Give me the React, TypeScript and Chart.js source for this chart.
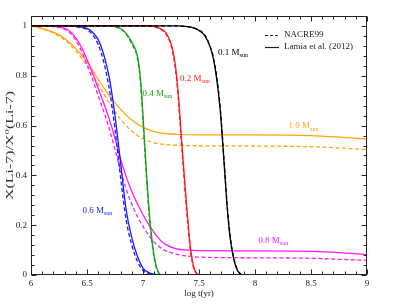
import React, { useEffect, useRef } from "react";
import { Chart, registerables } from "chart.js";
Chart.register(...registerables);

// ---- axes ----
const xMin = 6;
const xMax = 9;
const yMin = 0;
const yMax = 1.04;
const xTickValues = [6, 6.5, 7, 7.5, 8, 8.5, 9];
const xTickLabels = ["6", "6.5", "7", "7.5", "8", "8.5", "9"];
const yTickValues = [0, 0.2, 0.4, 0.6, 0.8, 1];
const yTickLabels = ["0", "0.2", "0.4", "0.6", "0.8", "1"];
const xMinorStep = 0.1;
const yMinorStep = 0.04;
const xTitle = "log t(yr)";
const yTitleA = "X(Li-7)/X";
const yTitleSup = "0";
const yTitleB = "(Li-7)";

// ---- legend ----
const legendLabels = ["NACRE99", "Lamia et al. (2012)"];

// ---- 0.1 Msun ----
const m01X = [6, 7.3, 7.4, 7.45, 7.5, 7.55, 7.6, 7.63, 7.66, 7.69, 7.71, 7.73, 7.75, 7.77, 7.79, 7.81, 7.83, 7.85, 7.87, 7.9, 9];
const m01Lamia = [1, 1, 0.997, 0.992, 0.982, 0.962, 0.915, 0.865, 0.78, 0.66, 0.54, 0.41, 0.28, 0.18, 0.112, 0.065, 0.033, 0.013, 0.004, 0, 0];
const m01Nacre = [1, 1, 0.997, 0.992, 0.983, 0.964, 0.918, 0.87, 0.79, 0.67, 0.55, 0.42, 0.29, 0.19, 0.118, 0.07, 0.036, 0.015, 0.005, 0, 0];

// ---- 0.2 Msun ----
const m02X = [6, 7.0, 7.1, 7.15, 7.2, 7.25, 7.28, 7.3, 7.32, 7.34, 7.36, 7.38, 7.4, 7.42, 7.44, 7.46, 7.48, 7.5, 9];
const m02Lamia = [1, 1, 0.998, 0.99, 0.975, 0.93, 0.87, 0.8, 0.7, 0.57, 0.45, 0.33, 0.225, 0.125, 0.06, 0.022, 0.007, 0, 0];
const m02Nacre = [1, 1, 0.997, 0.988, 0.97, 0.922, 0.858, 0.785, 0.68, 0.55, 0.43, 0.31, 0.205, 0.11, 0.05, 0.018, 0.005, 0, 0];

// ---- 0.4 Msun ----
const m04X = [6, 6.7, 6.75, 6.8, 6.85, 6.9, 6.95, 6.975, 7.0, 7.02, 7.04, 7.06, 7.08, 7.1, 7.12, 7.14, 7.16, 9];
const m04Lamia = [1, 1, 0.998, 0.99, 0.97, 0.935, 0.88, 0.8, 0.64, 0.49, 0.35, 0.23, 0.14, 0.075, 0.032, 0.01, 0, 0];
const m04Nacre = [1, 1, 0.997, 0.988, 0.966, 0.928, 0.87, 0.785, 0.62, 0.47, 0.33, 0.215, 0.13, 0.068, 0.028, 0.008, 0, 0];

// ---- 0.6 Msun ----
const m06X = [6, 6.3, 6.4, 6.5, 6.55, 6.6, 6.65, 6.7, 6.75, 6.8, 6.85, 6.9, 6.95, 7.0, 7.05, 7.1, 7.15, 9];
const m06Lamia = [1, 1, 0.998, 0.99, 0.975, 0.945, 0.885, 0.79, 0.64, 0.45, 0.26, 0.15, 0.075, 0.028, 0.01, 0.003, 0, 0];
const m06Nacre = [1, 1, 0.997, 0.985, 0.965, 0.925, 0.855, 0.745, 0.585, 0.39, 0.22, 0.12, 0.055, 0.018, 0.006, 0.001, 0, 0];

// ---- 0.8 Msun ----
const m08X = [6, 6.2, 6.3, 6.35, 6.4, 6.45, 6.5, 6.55, 6.6, 6.65, 6.7, 6.75, 6.8, 6.85, 6.9, 6.95, 7.0, 7.05, 7.1, 7.15, 7.2, 7.3, 7.4, 7.5, 8.0, 8.5, 8.75, 9];
const m08Lamia = [1, 0.998, 0.99, 0.978, 0.952, 0.915, 0.865, 0.81, 0.75, 0.69, 0.625, 0.55, 0.465, 0.395, 0.335, 0.285, 0.242, 0.203, 0.17, 0.142, 0.123, 0.105, 0.1, 0.098, 0.097, 0.095, 0.09, 0.082];
const m08Nacre = [1, 0.997, 0.987, 0.972, 0.942, 0.9, 0.845, 0.785, 0.72, 0.655, 0.585, 0.505, 0.42, 0.345, 0.285, 0.235, 0.195, 0.16, 0.132, 0.112, 0.098, 0.083, 0.076, 0.072, 0.069, 0.067, 0.063, 0.059];

// ---- 1.0 Msun ----
const m10X = [6, 6.05, 6.1, 6.2, 6.3, 6.4, 6.5, 6.6, 6.7, 6.8, 6.9, 7.0, 7.1, 7.2, 7.3, 7.5, 8.0, 8.5, 8.75, 9];
const m10Lamia = [1, 0.996, 0.99, 0.975, 0.95, 0.91, 0.855, 0.785, 0.72, 0.665, 0.622, 0.593, 0.576, 0.568, 0.565, 0.563, 0.563, 0.56, 0.554, 0.546];
const m10Nacre = [1, 0.995, 0.988, 0.972, 0.944, 0.9, 0.84, 0.765, 0.69, 0.625, 0.578, 0.547, 0.531, 0.524, 0.521, 0.519, 0.518, 0.515, 0.51, 0.503];

// ---- curve labels (text + anchor in data units) ----
const curveLabelText = ["0.1 M", "0.2 M", "0.4 M", "0.6 M", "0.8 M", "1.0 M"];
const curveLabelX = [7.67, 7.33, 6.995, 6.46, 8.03, 8.3];
const curveLabelY = [0.885, 0.78, 0.72, 0.25, 0.13, 0.59];
const curveLabelSub = "sun";

const COLORS = ["#000000", "#ff1a1a", "#16a016", "#1a1aff", "#ff1aff", "#ffa510"];

const series = [
  { x: m01X, lamia: m01Lamia, nacre: m01Nacre },
  { x: m02X, lamia: m02Lamia, nacre: m02Nacre },
  { x: m04X, lamia: m04Lamia, nacre: m04Nacre },
  { x: m06X, lamia: m06Lamia, nacre: m06Nacre },
  { x: m08X, lamia: m08Lamia, nacre: m08Nacre },
  { x: m10X, lamia: m10Lamia, nacre: m10Nacre },
];

const FONT = "'Liberation Serif', 'Times New Roman', serif";
const DASH = [4, 2.5];

const decorPlugin = {
  id: "decor",
  afterDatasetsDraw(chart: any) {
    const { ctx, chartArea: a, scales } = chart;
    const sx = scales.x;
    const sy = scales.y;
    ctx.save();
    const L = Math.round(a.left) + 0.5;
    const R = Math.round(a.right) - 0.5;
    const T = Math.round(a.top) + 0.5;
    const B = Math.round(a.bottom) - 0.5;
    ctx.strokeStyle = "#222";
    ctx.lineWidth = 1;
    ctx.strokeRect(L, T, R - L, B - T);

    // x ticks
    ctx.beginPath();
    const nx = Math.round((xMax - xMin) / xMinorStep);
    for (let i = 0; i <= nx; i++) {
      const v = xMin + i * xMinorStep;
      const major = i % 5 === 0;
      const len = major ? 5 : 3;
      const px = Math.round(sx.getPixelForValue(v)) + 0.5;
      ctx.moveTo(px, B);
      ctx.lineTo(px, B - len);
      ctx.moveTo(px, T);
      ctx.lineTo(px, T + len);
    }
    const ny = Math.round((yMax - yMin) / yMinorStep);
    for (let i = 0; i <= ny; i++) {
      const v = yMin + i * yMinorStep;
      const major = i % 5 === 0;
      const len = major ? 5 : 3;
      const py = Math.round(sy.getPixelForValue(v)) + 0.5;
      ctx.moveTo(L, py);
      ctx.lineTo(L + len, py);
      ctx.moveTo(R, py);
      ctx.lineTo(R - len, py);
    }
    ctx.stroke();

    // tick labels
    ctx.fillStyle = "#222";
    ctx.font = `9px ${FONT}`;
    ctx.textAlign = "center";
    ctx.textBaseline = "top";
    xTickValues.forEach((v, i) => {
      ctx.fillText(xTickLabels[i], sx.getPixelForValue(v), a.bottom + 4);
    });
    ctx.textAlign = "right";
    ctx.textBaseline = "middle";
    yTickValues.forEach((v, i) => {
      ctx.fillText(yTickLabels[i], a.left - 4, sy.getPixelForValue(v));
    });

    // x title
    ctx.textAlign = "center";
    ctx.textBaseline = "middle";
    ctx.font = `9px ${FONT}`;
    ctx.fillText(xTitle, (a.left + a.right) / 2, a.bottom + 19);

    // y title (rotated with superscript)
    ctx.save();
    ctx.fillStyle = "#333";
    ctx.translate(9.5, (a.top + a.bottom) / 2);
    ctx.rotate(-Math.PI / 2);
    ctx.scale(1.6, 1);
    const mainF = `10px ${FONT}`;
    const supF = `6.5px ${FONT}`;
    ctx.font = mainF;
    const wA = ctx.measureText(yTitleA).width;
    const wB = ctx.measureText(yTitleB).width;
    ctx.font = supF;
    const wS = ctx.measureText(yTitleSup).width;
    let cx = -(wA + wS + wB) / 2;
    ctx.textAlign = "left";
    ctx.textBaseline = "alphabetic";
    ctx.font = mainF;
    ctx.fillText(yTitleA, cx, 3.5);
    cx += wA;
    ctx.font = supF;
    ctx.fillText(yTitleSup, cx, -0.5);
    cx += wS;
    ctx.font = mainF;
    ctx.fillText(yTitleB, cx, 3.5);
    ctx.restore();

    // curve labels
    curveLabelText.forEach((t, i) => {
      const px = sx.getPixelForValue(curveLabelX[i]);
      const py = sy.getPixelForValue(curveLabelY[i]);
      ctx.fillStyle = COLORS[i];
      ctx.textAlign = "left";
      ctx.textBaseline = "alphabetic";
      ctx.font = `9px ${FONT}`;
      ctx.fillText(t, px, py);
      const w = ctx.measureText(t).width;
      ctx.font = `6px ${FONT}`;
      ctx.fillText(curveLabelSub, px + w, py + 2.5);
    });

    // legend
    const lx = 265;
    const rows = [35, 47];
    ctx.strokeStyle = "#222";
    ctx.fillStyle = "#222";
    ctx.font = `9px ${FONT}`;
    ctx.textAlign = "left";
    ctx.textBaseline = "middle";
    rows.forEach((ry, i) => {
      ctx.beginPath();
      ctx.lineWidth = 1.2;
      ctx.setLineDash(i === 0 ? [3, 2] : []);
      ctx.moveTo(lx, ry + 0.5);
      ctx.lineTo(lx + 14, ry + 0.5);
      ctx.stroke();
      ctx.setLineDash([]);
      ctx.fillText(legendLabels[i], lx + 19, ry);
    });
    ctx.restore();
  },
};

export default function App() {
  const ref = useRef<HTMLCanvasElement | null>(null);
  useEffect(() => {
    document.body.style.margin = "0";
    const datasets: any[] = [];
    series.forEach((s, i) => {
      datasets.push({
        data: s.x.map((x, j) => ({ x, y: s.nacre[j] })),
        borderColor: COLORS[i],
        borderWidth: 1.3,
        borderDash: DASH,
        pointRadius: 0,
        cubicInterpolationMode: "monotone",
        fill: false,
      });
      datasets.push({
        data: s.x.map((x, j) => ({ x, y: s.lamia[j] })),
        borderColor: COLORS[i],
        borderWidth: 1.3,
        pointRadius: 0,
        cubicInterpolationMode: "monotone",
        fill: false,
      });
    });
    const chart = new Chart(ref.current as HTMLCanvasElement, {
      type: "line",
      data: { datasets },
      options: {
        animation: false,
        responsive: false,
        devicePixelRatio: 1,
        layout: { padding: { left: 31, right: 32, top: 16, bottom: 33 } },
        plugins: { legend: { display: false }, tooltip: { enabled: false } },
        scales: {
          x: { type: "linear", min: xMin, max: xMax, display: false },
          y: { type: "linear", min: yMin, max: yMax, display: false },
        },
      },
      plugins: [decorPlugin],
    } as any);
    return () => chart.destroy();
  }, []);
  return (
    <div style={{ width: 399, height: 308, background: "#fff" }}>
      <canvas ref={ref} width={399} height={308} />
    </div>
  );
}
